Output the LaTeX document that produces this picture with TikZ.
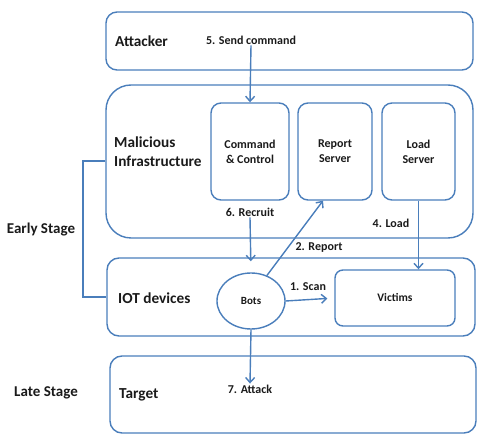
\documentclass[tikz,border=0pt]{standalone}
\usepackage{fontspec}
\setmainfont{Carlito}
\usepackage{tikz}
\usetikzlibrary{arrows.meta,positioning,calc,shapes.geometric}
\definecolor{lineblue}{HTML}{4A7EBB}
\definecolor{ink}{HTML}{1A1A1A}
\tikzset{
  >={Straight Barb[length=5pt,width=9pt]},
  every node/.style={text=ink,font=\bfseries},
  layer/.style={draw=lineblue,line width=1.4pt,rounded corners=11pt,minimum width=367pt,inner sep=0pt},
  srv/.style={draw=lineblue,line width=1.4pt,rounded corners=10pt,align=center,inner sep=0pt,minimum height=97pt,font=\fontsize{12}{15}\selectfont\bfseries},
  biglabel/.style={anchor=west,align=left,inner sep=0pt,font=\fontsize{15.3}{19}\selectfont\bfseries},
  steplabel/.style={inner sep=1pt,font=\fontsize{12}{14}\selectfont\bfseries},
  stagelabel/.style={inner sep=0pt,font=\fontsize{15}{18}\selectfont\bfseries},
  flow/.style={->,line width=1.4pt,draw=lineblue},
  bracket/.style={color=lineblue,line width=2pt}
}
\begin{document}
\begin{tikzpicture}[x=1pt,y=-1pt]
  \useasboundingbox (0,0) rectangle (480,438);

  % layers
  \node[layer,minimum height=58pt] (attacker) at (289.5,41) {};
  \node[layer,minimum height=153pt,rounded corners=25pt] (mal) at (289.5,161.5) {};
  \node[layer,minimum height=78pt,minimum width=368pt,rounded corners=12pt] (iot) at (291,297) {};
  \node[layer,minimum height=77pt,minimum width=366pt,rounded corners=12pt] (target) at (293,394.5) {};

  \node[biglabel] (attackerLabel) at (115,41) {Attacker};
  \node[biglabel] (malLabel) at (114,152) {Malicious\\Infrastructure};
  \node[biglabel] (iotLabel) at (118,298) {IOT devices};
  \node[biglabel] (targetLabel) at (119,395) {Target};

  % servers
  \node[srv,minimum width=78pt] (cc) at (250,151.5) {Command\\\& Control};
  \node[srv,minimum width=74pt] (report) at (335,151.5) {Report\\Server};
  \node[srv,minimum width=73pt] (load) at (418.5,151.5) {Load\\Server};

  \node[srv,minimum width=120pt,minimum height=56pt,rounded corners=8pt,font=\fontsize{11.5}{13}\selectfont\bfseries] (victims) at (395,298) {Victims};
  \node[draw=lineblue,line width=1.4pt,ellipse,minimum width=68pt,minimum height=56pt,inner sep=0pt,font=\fontsize{11}{13}\selectfont\bfseries] (bots) at (251,301) {Bots};

  % step labels
  \node[steplabel] (send) at (251,40) {5. Send command};
  \node[steplabel] (recruit) at (250,212) {6. Recruit};
  \node[steplabel] (loadLabel) at (391,223) {4. Load};
  \node[steplabel] (reportLabel) at (319,248) {2. Report};
  \node[steplabel] (scan) at (308,287) {1. Scan};
  \node[steplabel] (attack) at (250,389) {7. Attack};

  \node[stagelabel] (early) at (41,230) {Early Stage};
  \node[stagelabel] (late) at (46,393) {Late Stage};

  \draw[flow] (send.south) -- (cc.north);
  \draw[flow,shorten >=11pt] (recruit.south) -- (bots.north);
  \draw[flow] (bots.58) -- ([xshift=-12pt]report.south);
  \draw[flow] (load.south) -- (load.south |- victims.north);
  \draw[flow,shorten >=7pt] (bots.east) -- (victims.west);
  \draw[flow] (bots.south) -- (attack.north);

  \draw[bracket] (mal.west) -- ++(-22,0) |- (iot.west);
\end{tikzpicture}
\end{document}
